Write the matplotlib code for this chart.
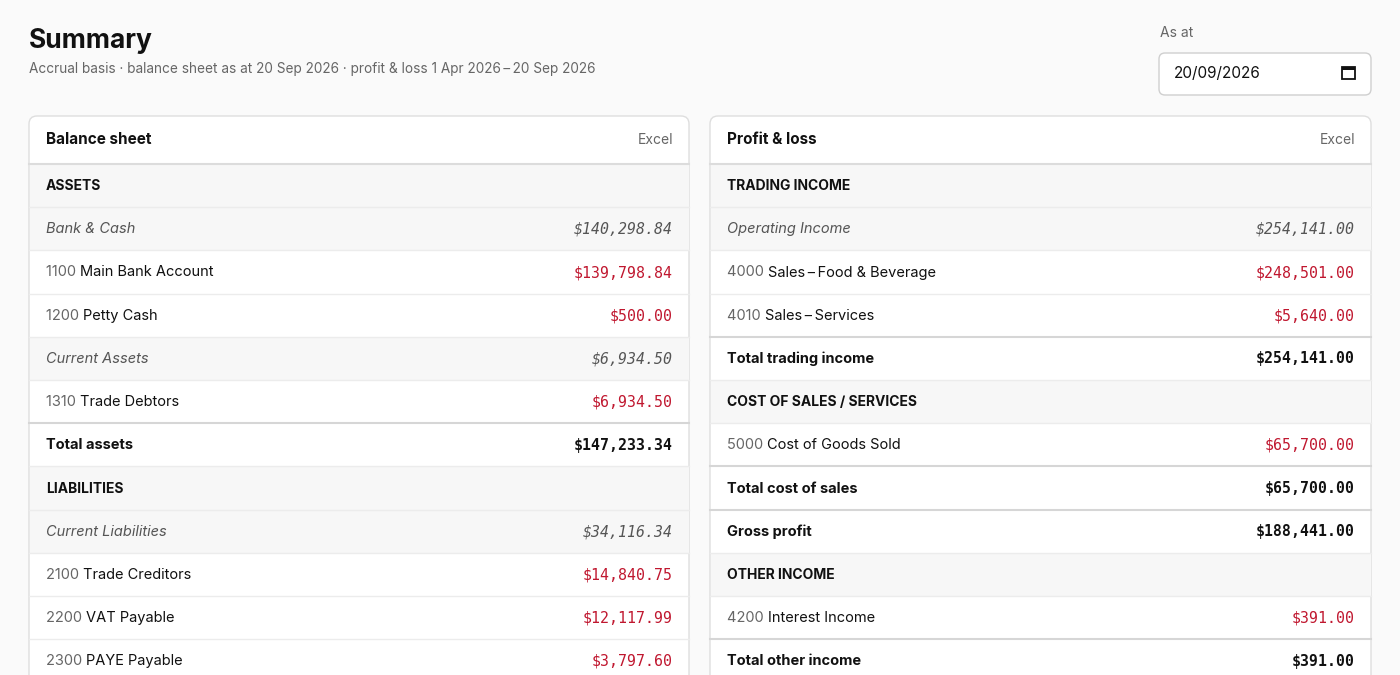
import matplotlib
matplotlib.use("Agg")
import matplotlib.pyplot as plt
from matplotlib.patches import FancyBboxPatch, Rectangle

plt.rcParams['font.family'] = ['Inter', 'DejaVu Sans']

# ---- data ----
bs_kinds  = ["section", "group", "account", "account", "group", "account", "total",
             "section", "group", "account", "account", "account"]
bs_codes  = ["", "", "1100", "1200", "", "1310", "", "", "", "2100", "2200", "2300"]
bs_labels = ["ASSETS", "Bank & Cash", "Main Bank Account", "Petty Cash", "Current Assets",
             "Trade Debtors", "Total assets", "LIABILITIES", "Current Liabilities",
             "Trade Creditors", "VAT Payable", "PAYE Payable"]
bs_values = [None, "$140,298.84", "$139,798.84", "$500.00", "$6,934.50", "$6,934.50",
             "$147,233.34", None, "$34,116.34", "$14,840.75", "$12,117.99", "$3,797.60"]

pl_kinds  = ["section", "group", "account", "account", "total", "section", "account",
             "total", "total", "section", "account", "total"]
pl_codes  = ["", "", "4000", "4010", "", "", "5000", "", "", "", "4200", ""]
pl_labels = ["TRADING INCOME", "Operating Income", "Sales\u2009\u2013\u2009Food & Beverage",
             "Sales\u2009\u2013\u2009Services", "Total trading income", "COST OF SALES / SERVICES",
             "Cost of Goods Sold", "Total cost of sales", "Gross profit", "OTHER INCOME",
             "Interest Income", "Total other income"]
pl_values = [None, "$254,141.00", "$248,501.00", "$5,640.00", "$254,141.00", None,
             "$65,700.00", "$65,700.00", "$188,441.00", None, "$391.00", "$391.00"]

title = "Summary"
subtitle = "Accrual basis \u00b7 balance sheet as at 20 Sep 2026 \u00b7 profit & loss 1 Apr 2026\u2009\u2013\u200920 Sep 2026"
date_text = "20/09/2026"

RED = "#c0172f"
MONO = ['DejaVu Sans Mono']
fig = plt.figure(figsize=(14, 6.75), dpi=100)
fig.patch.set_facecolor("#fafafa")
ax = fig.add_axes([0, 0, 1, 1])
ax.set_xlim(0, 1400); ax.set_ylim(675, 0); ax.axis("off")

ax.text(29, 41, title, fontsize=19, fontweight="bold", va="center", color="#111")
ax.text(29, 69, subtitle, fontsize=9.8, va="center", color="#666")
ax.text(1160, 33, "As at", fontsize=10, va="center", color="#666")
ax.add_patch(FancyBboxPatch((1159, 53), 212, 42, boxstyle="round,pad=0,rounding_size=6",
                            fc="white", ec="#cfcfcf", lw=1))
ax.text(1174, 74, date_text, fontsize=11, va="center", color="#111")
ax.add_patch(Rectangle((1342, 67), 13, 12, fc="none", ec="#111", lw=1.3))
ax.add_patch(Rectangle((1342, 67), 13, 3, fc="#111", ec="#111", lw=0))

def card(x0, x1, name, kinds, codes, labels, values):
    top, head = 116, 48
    rh = 43.2
    ax.add_patch(FancyBboxPatch((x0, top), x1 - x0, 700, boxstyle="round,pad=0,rounding_size=8",
                                fc="white", ec="#dedede", lw=1, zorder=1))
    ax.text(x0 + 17, top + 24, name, fontsize=11, fontweight="bold", va="center", color="#111", zorder=3)
    ax.text(x1 - 16, top + 24, "Excel", fontsize=10, va="center", ha="right", color="#666", zorder=3)
    ax.plot([x0, x1], [top + head, top + head], color="#dcdcdc", lw=1.5, zorder=3)
    for i, (k, c, l, v) in enumerate(zip(kinds, codes, labels, values)):
        y0 = top + head + i * rh
        yc = y0 + rh / 2 + 0.5
        if k in ("section", "group"):
            ax.add_patch(Rectangle((x0 + 0.5, y0), x1 - x0 - 1, rh, fc="#f7f7f7", ec="none", zorder=2))
        if i > 0:
            lw, col = (1.5, "#d6d6d6") if k == "total" else (1, "#ececec")
            ax.plot([x0, x1], [y0, y0], color=col, lw=lw, zorder=3)
        if k == "section":
            ax.text(x0 + 17, yc, l, fontsize=10, fontweight="bold", va="center", color="#111", zorder=3)
        elif k == "group":
            ax.text(x0 + 17, yc, l, fontsize=10.5, style="italic", va="center", color="#555", zorder=3)
            ax.text(x1 - 16, yc, v, fontsize=10.7, family=MONO, style="italic", va="center",
                    ha="right", color="#555", zorder=3)
        elif k == "account":
            t = ax.text(x0 + 17, yc, c + " ", fontsize=10.5, va="center", color="#666", zorder=3)
            ax.annotate(l, xycoords=t, xy=(1, 0.5), va="center", fontsize=10.5, color="#111", zorder=3)
            ax.text(x1 - 16, yc, v, fontsize=10.7, family=MONO, va="center", ha="right", color=RED, zorder=3)
        else:
            ax.text(x0 + 17, yc, l, fontsize=10.5, fontweight="bold", va="center", color="#111", zorder=3)
            ax.text(x1 - 16, yc, v, fontsize=10.7, family=MONO, fontweight="bold", va="center",
                    ha="right", color="#111", zorder=3)

card(29, 689, "Balance sheet", bs_kinds, bs_codes, bs_labels, bs_values)
card(710, 1371, "Profit & loss", pl_kinds, pl_codes, pl_labels, pl_values)
fig.savefig("out.png", dpi=100, facecolor=fig.get_facecolor())
